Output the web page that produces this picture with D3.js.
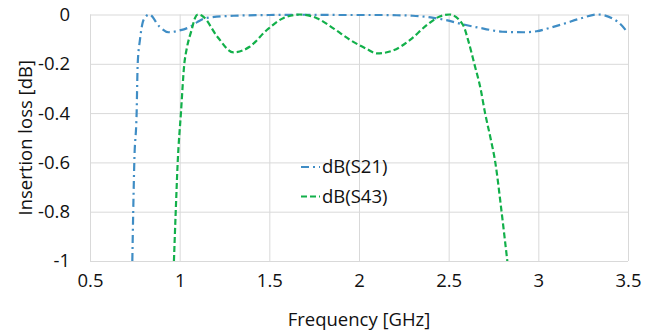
<!DOCTYPE html>
<html>
<head>
<meta charset="utf-8">
<script src="https://cdn.jsdelivr.net/npm/d3@7"></script>
<style>
  body { margin: 0; background: #fff; }
  svg text { font-family: "Open Sans", "Noto Sans", sans-serif; fill: #111; }
</style>
</head>
<body>
<div id="chart"></div>
<script>
// Insertion loss chart (S21 / S43)
var freqS21 = [0.736, 0.741, 0.747, 0.76, 0.766, 0.779, 0.80, 0.83, 0.886, 0.937, 0.992, 1.058, 1.098, 1.15, 1.3, 1.5, 1.7, 1.9, 2.1, 2.21, 2.3, 2.4, 2.48, 2.58, 2.70, 2.80, 2.915, 2.99, 3.06, 3.14, 3.24, 3.33, 3.44, 3.5];
var dbS21 = [-1.0, -0.8, -0.6, -0.4, -0.2, -0.1, -0.02, 0, -0.048, -0.072, -0.066, -0.05, -0.031, -0.014, -0.005, -0.002, -0.001, -0.002, -0.002, -0.003, -0.005, -0.012, -0.022, -0.04, -0.058, -0.07, -0.072, -0.068, -0.055, -0.038, -0.015, 0, -0.028, -0.075];

var freqS43 = [0.968, 0.978, 0.989, 1.007, 1.026, 1.039, 1.067, 1.085, 1.102, 1.13, 1.21, 1.30, 1.39, 1.486, 1.577, 1.67, 1.765, 1.857, 1.95, 2.044, 2.10, 2.19, 2.285, 2.38, 2.45, 2.504, 2.58, 2.608, 2.643, 2.679, 2.703, 2.733, 2.76, 2.795, 2.827];
var dbS43 = [-1, -0.8, -0.6, -0.4, -0.2, -0.14, -0.062, -0.015, 0, -0.008, -0.09, -0.154, -0.131, -0.063, -0.015, 0, -0.015, -0.056, -0.103, -0.14, -0.158, -0.146, -0.103, -0.042, -0.008, 0, -0.042, -0.103, -0.2, -0.305, -0.4, -0.5, -0.6, -0.8, -1];

var xTicks = [0.5, 1, 1.5, 2, 2.5, 3, 3.5];
var yTicks = [0, -0.2, -0.4, -0.6, -0.8, -1];

var series = [
    { name: "dB(S21)", freq: freqS21, db: dbS21, colour: "#3f8dc5", dash: "8,4,2,4" },
    { name: "dB(S43)", freq: freqS43, db: dbS43, colour: "#12b04a", dash: "6,3" }
];

var fullWidth = 659, fullHeight = 333;
var margin = { top: 14.5, right: 31, bottom: 72, left: 90 },
    width = fullWidth - margin.left - margin.right,
    height = fullHeight - margin.top - margin.bottom;

var svg = d3.select("#chart").append("svg")
    .attr("width", fullWidth)
    .attr("height", fullHeight)
    .append("g")
    .attr("transform", "translate(" + margin.left + "," + margin.top + ")");

var scaleX = d3.scaleLinear().domain([0.5, 3.5]).range([0, width]);
var scaleY = d3.scaleLinear().domain([-1, 0]).range([height, 0]);

// Grid lines (Excel style, edges included)
var axisXGrid = d3.axisBottom(scaleX).tickValues(xTicks).tickSize(-height).tickFormat("");
svg.append("g")
    .attr("transform", "translate(0," + height + ")")
    .call(axisXGrid)
    .call(function (g) { g.select(".domain").remove(); })
    .selectAll("line").attr("stroke", "#d9d9d9");

var axisYGrid = d3.axisLeft(scaleY).tickValues(yTicks).tickSize(-width).tickFormat("");
svg.append("g")
    .call(axisYGrid)
    .call(function (g) { g.select(".domain").remove(); })
    .selectAll("line").attr("stroke", "#d9d9d9");

// Tick labels
var axisX = d3.axisBottom(scaleX).tickValues(xTicks).tickSize(0).tickPadding(13).tickFormat(d3.format("~g"));
svg.append("g")
    .attr("transform", "translate(0," + height + ")")
    .call(axisX)
    .call(function (g) { g.select(".domain").remove(); })
    .selectAll("text")
    .style("font-size", "18.5px");

var axisY = d3.axisLeft(scaleY).tickValues(yTicks).tickSize(0).tickPadding(20)
    .tickFormat(function (d) { return d3.format("~g")(d).replace("\u2212", "-"); });
svg.append("g")
    .call(axisY)
    .call(function (g) { g.select(".domain").remove(); })
    .selectAll("text")
    .style("font-size", "18.5px");

// Axis labels
svg.append("text")
    .attr("x", width / 2)
    .attr("y", 326 - margin.top)
    .style("text-anchor", "middle")
    .style("font-size", "18.5px")
    .text("Frequency [GHz]");

svg.append("text")
    .attr("transform", "translate(" + (32 - margin.left) + "," + (height / 2) + ") rotate(-90)")
    .style("text-anchor", "middle")
    .style("font-size", "18.5px")
    .text("Insertion loss [dB]");

// Curves
svg.append("clipPath").attr("id", "plot-clip")
    .append("rect").attr("x", 0).attr("y", -3).attr("width", width).attr("height", height + 3);

var line = d3.line()
    .x(function (p) { return scaleX(p[0]); })
    .y(function (p) { return scaleY(p[1]); })
    .curve(d3.curveMonotoneX);

series.forEach(function (s) {
    svg.append("path")
        .datum(d3.zip(s.freq, s.db))
        .attr("clip-path", "url(#plot-clip)")
        .attr("fill", "none")
        .attr("stroke", s.colour)
        .attr("stroke-width", 2.2)
        .attr("stroke-dasharray", s.dash)
        .attr("d", line);
});

// Legend
var legend = svg.append("g")
    .attr("transform", "translate(" + (301 - margin.left) + "," + (167 - margin.top) + ")");
series.forEach(function (s, i) {
    var item = legend.append("g").attr("transform", "translate(0," + (i * 29.5) + ")");
    item.append("line")
        .attr("x1", 0).attr("x2", 19)
        .attr("stroke", s.colour)
        .attr("stroke-width", 2.2)
        .attr("stroke-dasharray", s.dash);
    item.append("text")
        .attr("x", 21)
        .attr("dy", "0.35em")
        .style("font-size", "18.5px")
        .text(s.name);
});
</script>
</body>
</html>
